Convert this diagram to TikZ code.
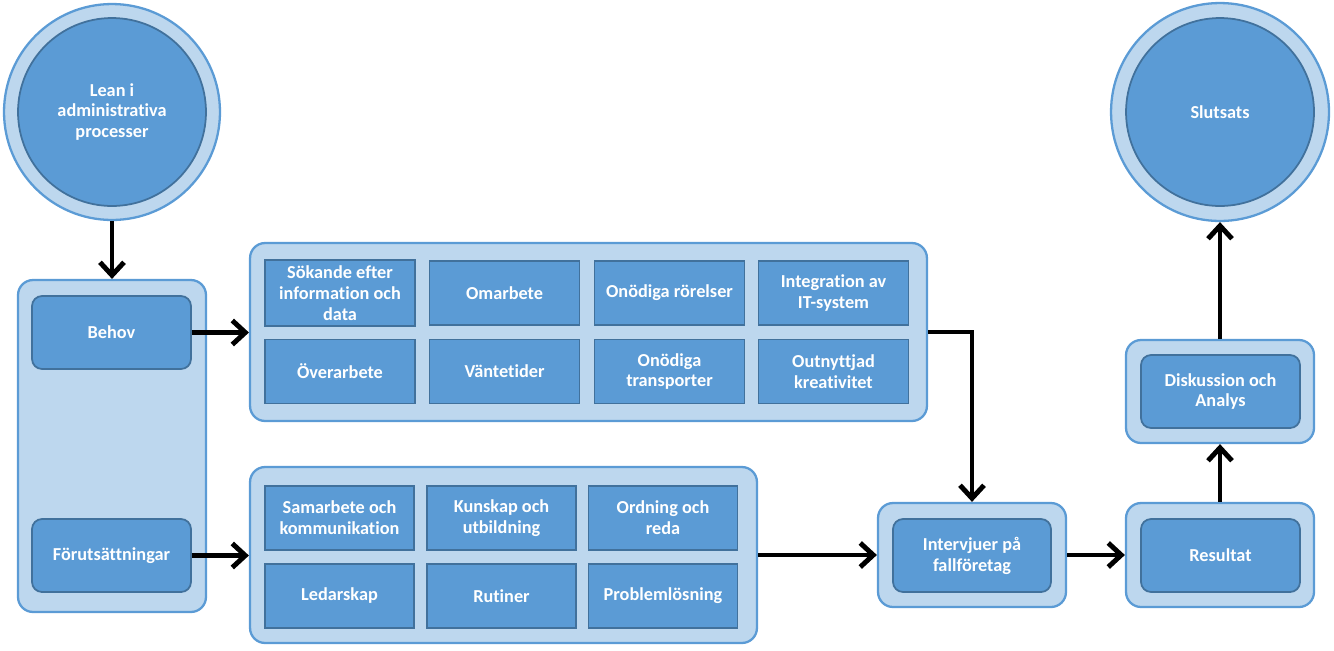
\documentclass[tikz,border=0pt]{standalone}
\usepackage{fontspec}
\setmainfont[Ligatures=NoCommon]{Carlito}
\usetikzlibrary{arrows.meta}
\definecolor{ljus}{HTML}{BDD7EE}
\definecolor{mellan}{HTML}{5B9BD5}
\definecolor{mork}{HTML}{41719C}
\begin{document}
\begin{tikzpicture}[x=0.02cm,y=-0.02cm,
    font=\fontsize{10.4}{11.9}\selectfont\bfseries,
    ram/.style={draw=mellan, fill=ljus, line width=1.3pt, rounded corners=0.3cm},
    ruta/.style={draw=mork, fill=mellan, line width=1pt, text=white, align=center},
    kort/.style={ruta, rounded corners=0.2cm, minimum width=3.18cm, minimum height=1.46cm},
    cell/.style={ruta, minimum width=2.98cm, minimum height=1.28cm},
    pil/.style={line width=2.8pt, -{Straight Barb[length=2.6mm,width=4.8mm]}}]
  \useasboundingbox (0,0) rectangle (1334,650);
  % cirklar
  \node[circle, draw=mellan, fill=ljus, line width=1.3pt, minimum size=4.32cm] (leanyttre) at (112,112) {};
  \node[circle, ruta, minimum size=3.76cm] (lean) at (112,112) {Lean i\\administrativa\\processer};
  \node[circle, draw=mellan, fill=ljus, line width=1.3pt, minimum size=4.36cm] (slutyttre) at (1220,112) {};
  \node[circle, ruta, minimum size=3.76cm] (slut) at (1220,112) {Slutsats};
  % vänstra kolumnen
  \node[ram, minimum width=3.76cm, minimum height=6.64cm] (vanster) at (112,446) {};
  \node[kort] (behov) at (111.5,332.5) {Behov};
  \node[kort] (fors) at (111.5,555.5) {Förutsättningar};
  % slöseri
  \node[ram, minimum width=13.54cm, minimum height=3.56cm] (slos) at (588.5,332) {};
  \node[cell, minimum width=3cm] (s1) at (340,293) {Sökande efter\\information och\\data};
  \node[cell, minimum width=3cm] (s2) at (504.5,293) {Omarbete};
  \node[cell, minimum width=3cm] (s3) at (669.5,293) {Onödiga rörelser};
  \node[cell, minimum width=3cm] (s4) at (833.5,293) {Integration av\\IT-system};
  \node[cell, minimum width=3cm] (s5) at (340,371.5) {Överarbete};
  \node[cell, minimum width=3cm] (s6) at (504.5,371.5) {Väntetider};
  \node[cell, minimum width=3cm] (s7) at (669.5,371.5) {Onödiga\\transporter};
  \node[cell, minimum width=3cm] (s8) at (833.5,371.5) {Outnyttjad\\kreativitet};
  % förutsättningar
  \node[ram, minimum width=10.14cm, minimum height=3.52cm] (forgrp) at (503.5,555) {};
  \node[cell] (f1) at (339.5,518) {Samarbete och\\kommunikation};
  \node[cell] (f2) at (501.5,518) {Kunskap och\\utbildning};
  \node[cell] (f3) at (663,518) {Ordning och\\reda};
  \node[cell] (f4) at (339.5,596) {Ledarskap};
  \node[cell] (f5) at (501.5,596) {Rutiner};
  \node[cell] (f6) at (663,596) {Problemlösning};
  % högra delen
  \node[ram, minimum width=3.76cm, minimum height=2.08cm] (intyttre) at (972,555) {};
  \node[kort, minimum width=3.16cm] (int) at (972,555.5) {Intervjuer på\\fallföretag};
  \node[ram, minimum width=3.76cm, minimum height=2.08cm] (resyttre) at (1220,555) {};
  \node[kort] (res) at (1220.5,555.5) {Resultat};
  \node[ram, minimum width=3.76cm, minimum height=2.06cm] (diskyttre) at (1220,391.5) {};
  \node[kort] (disk) at (1220.5,391.5) {Diskussion och\\Analys};
  % pilar
  \draw[pil] (leanyttre) -- (vanster);
  \draw[pil] (behov.east) -- (behov.east -| slos.west);
  \draw[pil] (fors.east) -- (fors.east -| forgrp.west);
  \draw[pil] (slos.east) -| (intyttre.north);
  \draw[pil] (forgrp.east) -- (intyttre.west);
  \draw[pil] (intyttre.east) -- (resyttre.west);
  \draw[pil] (resyttre.north) -- (diskyttre.south);
  \draw[pil] (diskyttre.north) -- (slutyttre.south);
\end{tikzpicture}
\end{document}
